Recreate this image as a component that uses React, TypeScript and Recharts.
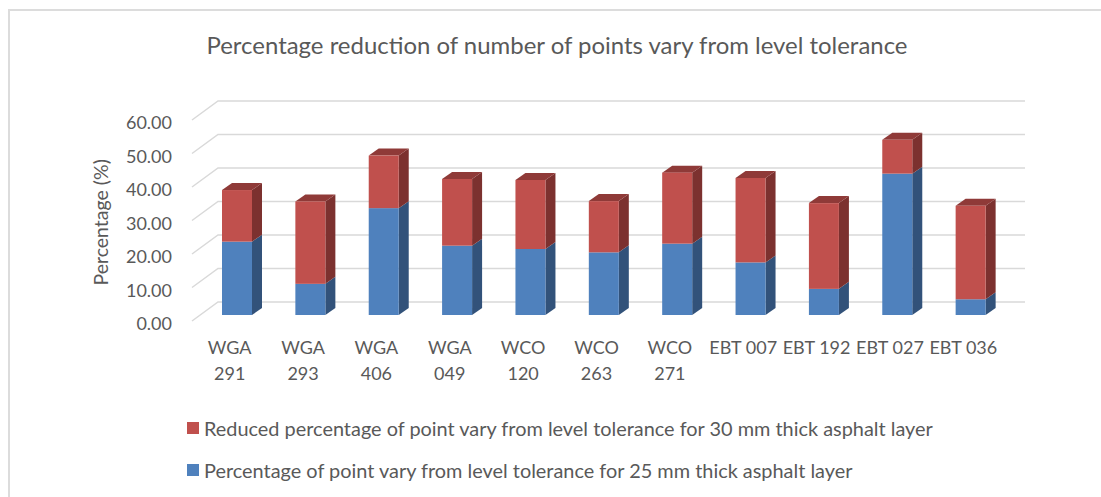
import React from "react";
import { BarChart, Bar, XAxis, YAxis, CartesianGrid, Legend } from "recharts";

const sites = ["WGA 291", "WGA 293", "WGA 406", "WGA 049", "WCO 120", "WCO 263", "WCO 271", "EBT 007", "EBT 192", "EBT 027", "EBT 036"];
const thick25 = [21.9, 9.3, 31.9, 20.7, 19.7, 18.7, 21.3, 15.7, 7.8, 42.2, 4.7];
const reduced30 = [15.4, 24.6, 15.7, 19.9, 20.6, 15.3, 21.2, 25.2, 25.6, 10.1, 27.9];

const name25 = "Percentage of point vary from level tolerance for 25 mm thick asphalt layer";
const name30 = "Reduced percentage of point vary from level tolerance for 30 mm thick asphalt layer";

const rows = sites.map((site, i) => ({ site, thick25: thick25[i], reduced30: reduced30[i] }));

const FONT = "Lato, sans-serif";
const TEXT = "#595959";
const GRID = "#d9d9d9";

// fake 3d box, front face is moved so it stands in the middle of the floor
const Box3D = ({ x, y, width, height, fill, side, cap }: any) => {
  const fx = x + 8;
  const fy = y - 6;
  const dx = 10;
  const dy = 7;
  return (
    <g>
      <polygon points={`${fx + width},${fy} ${fx + width + dx},${fy - dy} ${fx + width + dx},${fy + height - dy} ${fx + width},${fy + height}`} fill={side} />
      {cap && <polygon points={`${fx},${fy} ${fx + dx},${fy - dy} ${fx + width + dx},${fy - dy} ${fx + width},${fy}`} fill={cap} />}
      <rect x={fx} y={fy} width={width} height={height} fill={fill} />
    </g>
  );
};

const GridLine3D = ({ x1, y1, x2 }: any) => (
  <polyline points={`${x1},${y1} ${x1 + 26},${y1 - 19} ${x2 + 26},${y1 - 19}`} fill="none" stroke={GRID} strokeWidth={1.5} />
);

const CategoryTick = ({ x, y, payload }: any) => {
  const [a, b] = payload.value.split(" ");
  if (a === "EBT") {
    return (
      <text x={x + 1} y={y + 25} textAnchor="middle" fill={TEXT} fontFamily={FONT} fontSize={18}>
        {payload.value}
      </text>
    );
  }
  return (
    <text textAnchor="middle" fill={TEXT} fontFamily={FONT} fontSize={18}>
      <tspan x={x + 1} y={y + 25}>{a}</tspan>
      <tspan x={x + 1} y={y + 51}>{b}</tspan>
    </text>
  );
};

const StackedLegend = () => (
  <div style={{ fontFamily: FONT, fontSize: 19.9, color: TEXT }}>
    {[
      { label: name30, color: "#c0504d" },
      { label: name25, color: "#4f81bd" },
    ].map((item) => (
      <div key={item.label} style={{ height: 42, display: "flex", alignItems: "center", whiteSpace: "nowrap" }}>
        <span style={{ width: 12, height: 12, background: item.color, marginRight: 5 }} />
        {item.label}
      </div>
    ))}
  </div>
);

const App = () => (
  <div style={{ position: "absolute", left: 0, top: 0, width: 1101, height: 497, overflow: "hidden", background: "#fff" }}>
    <div style={{ position: "absolute", left: 8, top: 9, width: 1093, height: 2, background: "#dcdcdc" }} />
    <div style={{ position: "absolute", left: 8, top: 9, width: 2, height: 488, background: "#dcdcdc" }} />
    <div style={{ position: "absolute", left: 0, top: 30, width: 1114, textAlign: "center", fontFamily: FONT, fontSize: 23.95, color: TEXT }}>
      Percentage reduction of number of points vary from level tolerance
    </div>
    <div style={{ position: "absolute", left: 0, top: 0 }}>
      <BarChart
        width={1101}
        height={497}
        data={rows}
        barSize={30}
        margin={{ top: 120, right: 102, bottom: 0, left: 102 }}
      >
        <CartesianGrid vertical={false} horizontal={(p: any) => <GridLine3D key={p.key} {...p} />} />
        <XAxis dataKey="site" axisLine={false} tickLine={false} interval={0} tick={<CategoryTick />} height={92} />
        <YAxis
          domain={[0, 60]}
          ticks={[0, 10, 20, 30, 40, 50, 60]}
          tickFormatter={(v: number) => v.toFixed(2)}
          axisLine={false}
          tickLine={false}
          width={90}
          tickMargin={14}
          tick={{ fill: TEXT, fontFamily: FONT, fontSize: 18, dy: 3 }}
          label={{ value: "Percentage (%)", angle: -90, position: "insideLeft", offset: -1, dy: 65, fill: TEXT, fontFamily: FONT, fontSize: 19.5 }}
        />
        <Bar dataKey="thick25" name={name25} stackId="a" isAnimationActive={false} shape={<Box3D fill="#4f81bd" side="#32527a" />} />
        <Bar dataKey="reduced30" name={name30} stackId="a" isAnimationActive={false} shape={<Box3D fill="#c0504d" side="#7c312f" cap="#8f3a38" />} />
        <Legend content={<StackedLegend />} layout="vertical" wrapperStyle={{ position: "absolute", left: 187, top: 407, width: 800 }} />
      </BarChart>
    </div>
  </div>
);

export default App;
